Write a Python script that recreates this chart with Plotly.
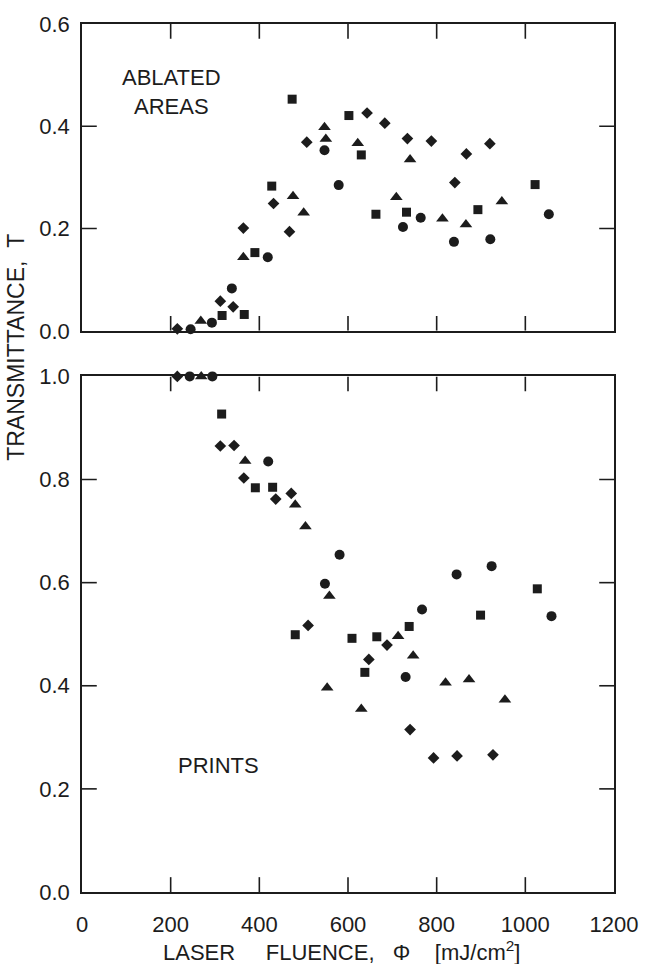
import plotly.graph_objects as go

# ---- Ablated areas (upper panel): fluence [mJ/cm^2] and transmittance ----
abl_sq_x = [316, 366, 390, 428, 474, 602, 630, 663, 732, 893, 1022]
abl_sq_y = [0.030, 0.032, 0.153, 0.283, 0.453, 0.421, 0.344, 0.228, 0.232, 0.237, 0.286]

abl_di_x = [215, 312, 341, 364, 432, 468, 507, 643, 683, 734, 788, 841, 867, 920]
abl_di_y = [0.004, 0.058, 0.047, 0.201, 0.249, 0.194, 0.369, 0.426, 0.406, 0.376, 0.371, 0.290, 0.346, 0.366]

abl_tr_x = [268, 364, 476, 500, 547, 550, 622, 709, 740, 813, 866, 947]
abl_tr_y = [0.019, 0.144, 0.263, 0.231, 0.398, 0.375, 0.367, 0.261, 0.335, 0.219, 0.208, 0.253]

abl_ci_x = [245, 293, 338, 419, 547, 579, 724, 764, 839, 921, 1053]
abl_ci_y = [0.003, 0.016, 0.083, 0.144, 0.353, 0.285, 0.203, 0.221, 0.174, 0.179, 0.228]

# ---- Prints (lower panel) ----
prt_di_x = [215, 312, 343, 365, 437, 472, 510, 647, 688, 740, 793, 846, 927]
prt_di_y = [1.0, 0.865, 0.866, 0.803, 0.762, 0.773, 0.517, 0.451, 0.479, 0.315, 0.260, 0.264, 0.266]

prt_ci_x = [243, 294, 420, 548, 581, 730, 767, 845, 924, 1059]
prt_ci_y = [1.0, 1.0, 0.835, 0.598, 0.654, 0.417, 0.548, 0.616, 0.632, 0.535]

prt_tr_x = [269, 368, 481, 504, 558, 553, 630, 713, 747, 820, 873, 954]
prt_tr_y = [1.0, 0.836, 0.751, 0.709, 0.574, 0.396, 0.355, 0.496, 0.458, 0.406, 0.412, 0.373]

prt_sq_x = [315, 391, 430, 481, 609, 638, 665, 738, 899, 1027]
prt_sq_y = [0.927, 0.784, 0.785, 0.499, 0.492, 0.426, 0.495, 0.515, 0.537, 0.588]

x_ticks = [0, 200, 400, 600, 800, 1000, 1200]
top_y_ticks = [0.0, 0.2, 0.4, 0.6]
bot_y_ticks = [0.0, 0.2, 0.4, 0.6, 0.8, 1.0]

X_RANGE = (0, 1200)
TOP_RANGE = (0, 0.6)
BOT_RANGE = (0, 1.0)

INK = "#1c1c1c"
FONT = "Liberation Sans, Arial, sans-serif"

W, H = 650, 964
MARGIN = dict(l=82, r=28, t=15, b=72)
TOP_DOMAIN = [0.6465, 1.0]
BOT_DOMAIN = [0.0, 0.594]
TICK_PX = 15

fig = go.Figure()

def add_series(xs, ys, symbol, size, xa, ya):
    fig.add_trace(go.Scatter(
        x=xs, y=ys, mode="markers", xaxis=xa, yaxis=ya,
        marker=dict(symbol=symbol, size=size, color=INK, line=dict(width=0)),
        cliponaxis=False, showlegend=False, hoverinfo="x+y",
    ))

# upper panel
add_series(abl_sq_x, abl_sq_y, "square", 9, "x2", "y2")
add_series(abl_di_x, abl_di_y, "diamond", 9, "x2", "y2")
add_series(abl_tr_x, abl_tr_y, "triangle-up", 11, "x2", "y2")
add_series(abl_ci_x, abl_ci_y, "circle", 10, "x2", "y2")

# lower panel
add_series(prt_di_x, prt_di_y, "diamond", 9, "x", "y")
add_series(prt_ci_x, prt_ci_y, "circle", 10, "x", "y")
add_series(prt_tr_x, prt_tr_y, "triangle-up", 11, "x", "y")
add_series(prt_sq_x, prt_sq_y, "square", 9, "x", "y")

axis_common = dict(
    showline=True, linecolor=INK, linewidth=1.5, mirror=True,
    ticks="", showgrid=False, zeroline=False,
    tickfont=dict(family=FONT, size=22, color=INK),
)

fig.update_layout(
    width=W, height=H, margin=MARGIN,
    paper_bgcolor="white", plot_bgcolor="white",
    font=dict(family=FONT, color=INK),
    xaxis=dict(domain=[0, 1], range=list(X_RANGE), tickmode="array", tickvals=x_ticks,
               anchor="y", ticklabelstandoff=12, **axis_common),
    yaxis=dict(domain=BOT_DOMAIN, range=list(BOT_RANGE), tickmode="array", tickvals=bot_y_ticks,
               tickformat=".1f", anchor="x", ticklabelstandoff=6, **axis_common),
    xaxis2=dict(domain=[0, 1], range=list(X_RANGE), tickmode="array", tickvals=x_ticks,
                anchor="y2", matches="x", showticklabels=False, **axis_common),
    yaxis2=dict(domain=TOP_DOMAIN, range=list(TOP_RANGE), tickmode="array", tickvals=top_y_ticks,
                tickformat=".1f", anchor="x2", ticklabelstandoff=6, **axis_common),
)

# inward tick marks on all four sides of each panel, TICK_PX long
plot_w = W - MARGIN["l"] - MARGIN["r"]
plot_h = H - MARGIN["t"] - MARGIN["b"]
dx = TICK_PX * (X_RANGE[1] - X_RANGE[0]) / plot_w
tick_line = dict(color=INK, width=1.6)
for xa, ya, yvals, yr, dom in (("x", "y", bot_y_ticks, BOT_RANGE, BOT_DOMAIN),
                               ("x2", "y2", top_y_ticks, TOP_RANGE, TOP_DOMAIN)):
    dy = TICK_PX * (yr[1] - yr[0]) / (plot_h * (dom[1] - dom[0]))
    for v in x_ticks[1:-1]:
        fig.add_shape(type="line", xref=xa, yref=ya, x0=v, x1=v,
                      y0=yr[0], y1=yr[0] + dy, line=tick_line, layer="above")
        fig.add_shape(type="line", xref=xa, yref=ya, x0=v, x1=v,
                      y0=yr[1] - dy, y1=yr[1], line=tick_line, layer="above")
    for v in yvals[1:-1]:
        fig.add_shape(type="line", xref=xa, yref=ya, y0=v, y1=v,
                      x0=X_RANGE[0], x1=X_RANGE[0] + dx, line=tick_line, layer="above")
        fig.add_shape(type="line", xref=xa, yref=ya, y0=v, y1=v,
                      x0=X_RANGE[1] - dx, x1=X_RANGE[1], line=tick_line, layer="above")

txt = dict(family=FONT, size=22, color=INK)
ann = dict(xref="paper", yref="paper", showarrow=False,
           xanchor="center", yanchor="middle")
fig.add_annotation(text="ABLATED", x=0.168, y=0.938, font=txt, **ann)
fig.add_annotation(text="AREAS", x=0.168, y=0.905, font=txt, **ann)
fig.add_annotation(text="PRINTS", x=0.257, y=0.146, font=txt, **ann)
fig.add_annotation(
    text="LASER&nbsp;&nbsp;&nbsp;&nbsp;&nbsp;FLUENCE,&nbsp;&nbsp;&nbsp;Φ&nbsp;&nbsp;&nbsp;&nbsp;[mJ/cm<sup>2</sup>]",
    x=0.488, y=-0.068, font=dict(family=FONT, size=22, color=INK), **ann)
fig.add_annotation(text="TRANSMITTANCE,&nbsp;&nbsp;T", textangle=-90,
                   x=-0.124, y=0.627, font=dict(family=FONT, size=23, color=INK), **ann)

fig.write_html("out.html")
